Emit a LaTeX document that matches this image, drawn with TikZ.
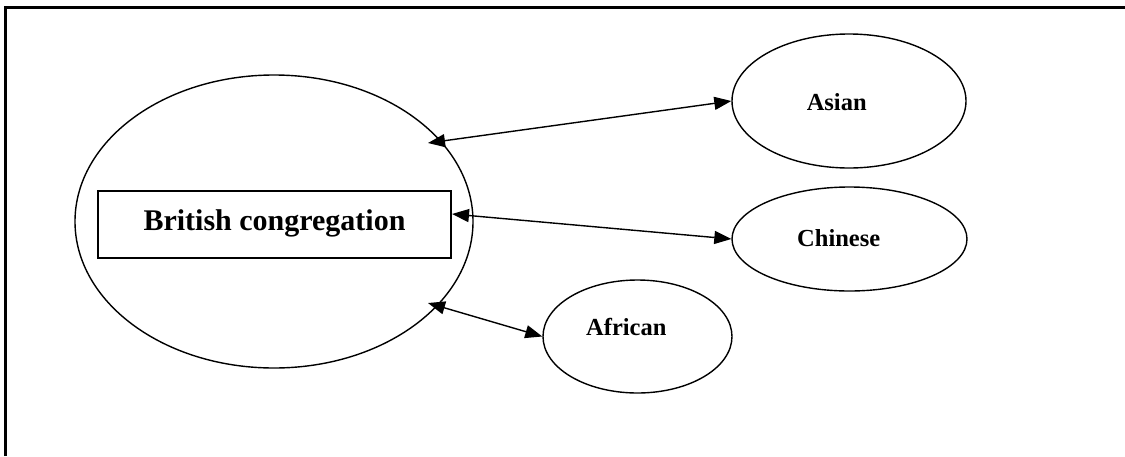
\documentclass[tikz,border=0pt]{standalone}
\usepackage{fontspec}
\setmainfont{Liberation Serif}
\usetikzlibrary{shapes.geometric,arrows.meta}
\begin{document}
\begin{tikzpicture}[x=1pt,y=-1pt,
  oval/.style={draw,ellipse,line width=1.4pt,inner sep=0pt},
  lbl/.style={anchor=base,inner sep=0pt,font=\bfseries\fontsize{24.5}{26}\selectfont},
  link/.style={line width=1.4pt,{Triangle[length=17pt,width=13pt]}-{Triangle[length=17pt,width=13pt]}}]
\useasboundingbox (0,0) rectangle (1125,456);
% frame
\draw[line width=2.6pt] (5.5,456) -- (5.5,7.5) -- (1125,7.5);
% big ellipse and box
\node[oval,minimum width=398pt,minimum height=293pt] (big) at (274,221.5) {};
\node[draw,line width=1.4pt,minimum width=353pt,minimum height=67pt,inner sep=0pt] (brit) at (274.5,224.5) {};
\node[anchor=base,inner sep=0pt,font=\bfseries\fontsize{30}{32}\selectfont] (brittxt) at (274.5,230) {British congregation};
% outer ellipses
\node[oval,minimum width=234pt,minimum height=134pt] (asian) at (849,101) {};
\node[lbl] (asiantxt) at (836.7,110.7) {Asian};
\node[oval,minimum width=235pt,minimum height=104pt] (chinese) at (849.5,239) {};
\node[lbl] (chinesetxt) at (838.7,246) {Chinese};
\node[oval,minimum width=189pt,minimum height=113pt] (african) at (637.5,336.5) {};
\node[lbl] (africantxt) at (626.3,335.7) {African};
% connector ends inside the big ellipse
\coordinate (pa) at (428,143);
\coordinate (pc) at (452,214);
\coordinate (pf) at (428,303);
\draw[link] (pa) -- (asian.west);
\draw[link] (pc) -- (chinese.west);
\draw[link] (pf) -- (african.west);
\end{tikzpicture}
\end{document}
